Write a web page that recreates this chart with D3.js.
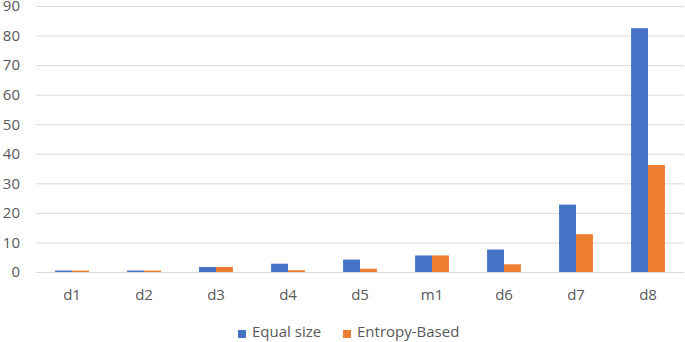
<!DOCTYPE html>
<html>
<head>
<meta charset="utf-8">
<script src="https://cdn.jsdelivr.net/npm/d3@7"></script>
<style>
  body { margin: 0; background: #fff; }
  text { font-family: "Open Sans", sans-serif; fill: #595959; }
  .grid line { stroke: #d9d9d9; stroke-width: 1; }
  .grid .domain { display: none; }
</style>
</head>
<body>
<svg id="chart"></svg>
<script>
const categories = ['d1', 'd2', 'd3', 'd4', 'd5', 'm1', 'd6', 'd7', 'd8'];
const seriesNames = ['Equal size', 'Entropy-Based'];
const equalSize = [0.5, 0.5, 1.7, 2.8, 4.2, 5.6, 7.6, 22.8, 82.5];
const entropyBased = [0.5, 0.5, 1.7, 0.6, 1.1, 5.6, 2.6, 12.8, 36.2];
const yTicks = [0, 10, 20, 30, 40, 50, 60, 70, 80, 90];
const colors = ['#4472C4', '#ED7D31'];

const W = 685, H = 342;
const margin = { top: 6, right: 1, bottom: 70, left: 36 };
const width = W - margin.left - margin.right;
const height = H - margin.top - margin.bottom;

const svg = d3.select('#chart').attr('width', W).attr('height', H);
const g = svg.append('g').attr('transform', `translate(${margin.left},${margin.top})`);

const x0 = d3.scaleBand().domain(categories).range([0, width]).paddingInner(0.53).paddingOuter(0.265);
const x1 = d3.scaleBand().domain(seriesNames).range([0, x0.bandwidth()]);
const y = d3.scaleLinear().domain([0, 90]).range([height, 0]);

g.append('g')
  .attr('class', 'grid')
  .call(d3.axisLeft(y).tickValues(yTicks).tickSize(-width).tickFormat(''));

g.append('g')
  .attr('class', 'y-labels')
  .call(d3.axisLeft(y).tickValues(yTicks).tickSize(0).tickPadding(16))
  .call(s => s.select('.domain').remove())
  .selectAll('text')
  .style('font-size', '15px')
  .attr('fill', '#595959');

const rows = categories.map((c, i) => ({ cat: c, vals: [equalSize[i], entropyBased[i]] }));

g.selectAll('.group')
  .data(rows)
  .join('g')
  .attr('class', 'group')
  .attr('transform', d => `translate(${x0(d.cat)},0)`)
  .selectAll('rect')
  .data(d => d.vals.map((v, j) => ({ key: seriesNames[j], v, j })))
  .join('rect')
  .attr('x', d => x1(d.key))
  .attr('width', x1.bandwidth())
  .attr('y', d => y(d.v))
  .attr('height', d => y(0) - y(d.v))
  .attr('fill', d => colors[d.j]);

g.append('g')
  .attr('transform', `translate(0,${height})`)
  .call(d3.axisBottom(x0).tickSize(0).tickPadding(17))
  .call(s => s.select('.domain').remove())
  .selectAll('text')
  .style('font-size', '15px')
  .attr('fill', '#595959');

// legend
const legend = svg.append('g').attr('transform', `translate(0,337)`);
const items = [{ name: seriesNames[0], x: 238 }, { name: seriesNames[1], x: 343 }];
items.forEach((it, i) => {
  legend.append('rect').attr('x', it.x).attr('y', -7).attr('width', 8).attr('height', 8).attr('fill', colors[i]);
  legend.append('text').attr('x', it.x + 14).attr('y', 0).style('font-size', '15px').text(it.name);
});
</script>
</body>
</html>
